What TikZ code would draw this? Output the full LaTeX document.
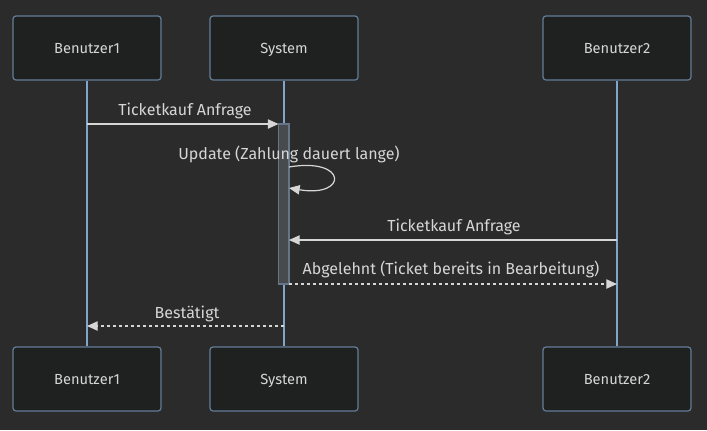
\documentclass[tikz,border=0pt]{standalone}
\usepackage{fontspec}
\setmainfont{Fira Sans}
\usetikzlibrary{arrows.meta}
\definecolor{bgcol}{RGB}{43,43,43}
\definecolor{boxfill}{RGB}{31,32,32}
\definecolor{boxline}{RGB}{98,125,152}
\definecolor{lifecol}{RGB}{129,166,204}
\definecolor{txtcol}{RGB}{214,214,214}
\definecolor{actfill}{RGB}{72,75,77}
\definecolor{actline}{RGB}{100,118,136}
\tikzset{
  actor/.style={draw=boxline,fill=boxfill,line width=0.9pt,rounded corners=2.25pt,
    minimum width=111pt,minimum height=48pt,text=txtcol,text height=7.6pt,text depth=0pt,
    font=\fontsize{11}{13}\selectfont},
  lifeline/.style={draw=lifecol,line width=1.1pt},
  msg/.style={draw=txtcol,line width=0.9pt,-{Triangle[length=8pt,width=7pt]}},
  reply/.style={msg,dash pattern=on 2.25pt off 2.25pt},
  msglabel/.style={text=txtcol,font=\fontsize{12}{14}\selectfont,inner sep=0pt,anchor=base}
}
\begin{document}
\begin{tikzpicture}[x=0.75pt,y=0.75pt,yscale=-1,xscale=1]
\fill[bgcol] (0,0) rectangle (707,430);

% Actors
\node[actor] (b1top) at (87,48) {Benutzer1};
\node[actor] (systop) at (284,48) {System};
\node[actor] (b2top) at (617,48) {Benutzer2};
\node[actor] (b1bot) at (87,379) {Benutzer1};
\node[actor] (sysbot) at (284,379) {System};
\node[actor] (b2bot) at (617,379) {Benutzer2};

% Lifelines
\draw[lifeline] (b1top) -- (b1bot);
\draw[lifeline] (systop) -- (sysbot);
\draw[lifeline] (b2top) -- (b2bot);

% Activation
\draw[fill=actfill,draw=actline,line width=0.9pt] (278.5,124) rectangle (289,284);

% Message points
\coordinate (m1a) at (87,124);
\coordinate (m1b) at (278.5,124);
\coordinate (m2a) at (289,167);
\coordinate (m2b) at (289,188);
\coordinate (m3a) at (617,240);
\coordinate (m3b) at (289,240);
\coordinate (m4a) at (289,284);
\coordinate (m4b) at (617,284);
\coordinate (m5a) at (284,326);
\coordinate (m5b) at (87,326);

% Messages
\draw[msg] (m1a) -- (m1b);
\node[msglabel] (l1) at (185,115) {Ticketkauf Anfrage};
\draw[msg] (m2a) .. controls (348,157) and (348,198) .. (m2b);
\node[msglabel] (l2) at (289,159) {Update (Zahlung dauert lange)};
\draw[msg] (m3a) -- (m3b);
\node[msglabel] (l3) at (454,231) {Ticketkauf Anfrage};
\draw[reply] (m4a) -- (m4b);
\node[msglabel] (l4) at (451,274) {Abgelehnt (Ticket bereits in Bearbeitung)};
\draw[reply] (m5a) -- (m5b);
\node[msglabel] (l5) at (187,318) {Bestätigt};

\end{tikzpicture}
\end{document}
